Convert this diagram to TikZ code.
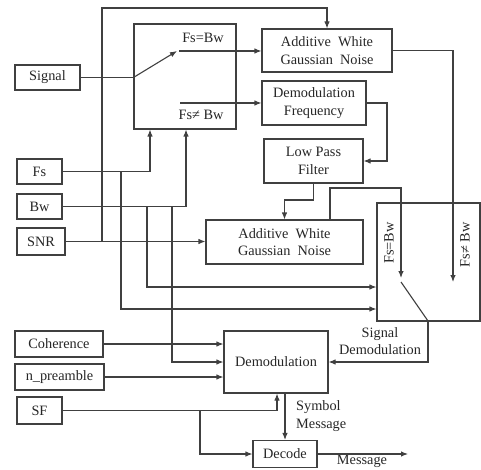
\documentclass[tikz,border=0pt]{standalone}
\usepackage{fontspec}
\setmainfont{Liberation Serif}
\newfontfamily\tms{Liberation Serif}
\usetikzlibrary{arrows.meta}
\begin{document}
\begin{tikzpicture}[x=1pt,y=-1pt,
  every node/.style={font=\tms\fontsize{14.3}{17.5}\selectfont, text=black!85},
  box/.style={draw=black!75, line width=1.1pt, inner sep=0pt, align=center, fill=white},
  ln/.style={draw=black!75, line width=1.1pt},
  arr/.style={ln, -{Latex[length=7pt,width=5.5pt]}},
  lbl/.style={inner sep=0pt}]
\useasboundingbox (0,0) rectangle (481,470);
% boxes
\node[box, minimum width=102pt, minimum height=105pt] (sw) at (185,76.5) {};
\node[box, minimum width=65pt, minimum height=25pt] (sig) at (47.5,77.5) {Signal};
\node[box, minimum width=45pt, minimum height=25pt] (fs) at (39.5,171.5) {Fs};
\node[box, minimum width=45pt, minimum height=25pt] (bw) at (39.5,206.5) {Bw};
\node[box, minimum width=48pt, minimum height=27pt] (snr) at (41,241.5) {SNR};
\node[box, minimum width=88pt, minimum height=26pt] (coh) at (59,344) {Coherence};
\node[box, minimum width=89pt, minimum height=26pt] (npre) at (59.5,377) {n\_preamble};
\node[box, minimum width=45pt, minimum height=27pt] (sf) at (39.5,410.5) {SF};
\node[box, minimum width=130pt, minimum height=43pt] (awgn1) at (327,50.5) {Additive~ White\\Gaussian~ Noise};
\node[box, minimum width=104pt, minimum height=44pt] (dfreq) at (314,103) {Demodulation\\Frequency};
\node[box, minimum width=99pt, minimum height=44pt] (lpf) at (313.5,161) {Low Pass\\Filter};
\node[box, minimum width=157pt, minimum height=44pt] (awgn2) at (284.5,242) {Additive~ White\\Gaussian~ Noise};
\node[box, minimum width=103pt, minimum height=118pt] (sdem) at (428.5,262) {};
\node[box, minimum width=104pt, minimum height=62pt] (dem) at (276,362) {Demodulation};
\node[box, minimum width=64pt, minimum height=27pt] (dec) at (285,454) {Decode};
% labels
\node[lbl] (t1) at (203,38) {Fs=Bw};
\node[lbl] (t2) at (201,115) {Fs≠ Bw};
\node[lbl, rotate=90] (t3) at (389,243) {Fs=Bw};
\node[lbl, rotate=90] (t4) at (465,245) {Fs≠ Bw};
\node[lbl, align=center] (t5) at (380,341) {Signal\\Demodulation};
\node[lbl, align=left, anchor=west] (t6) at (296,416) {Symbol\\Message};
\node[lbl] (t7) at (362,461) {Message};
% helper coordinates
\coordinate (xa) at (102,0);
\coordinate (xb) at (121,0);
\coordinate (xc) at (147,0);
\coordinate (xd) at (150,0);
\coordinate (xe) at (172,0);
\coordinate (xf) at (186,0);
\coordinate (xg) at (200,0);
\coordinate (xh) at (277,0);
\coordinate (ytop) at (0,8);
\coordinate (y287) at (0,287);
\coordinate (y309) at (0,309);
\coordinate (y362) at (0,362);
\coordinate (pole) at (177,51);
\coordinate (pa) at (179,51);
\coordinate (pb) at (180,103);
\coordinate (df) at (387,103);
\coordinate (lp) at (0,200);
\coordinate (aw) at (330,188);
\coordinate (s1) at (401,278);
\coordinate (s0) at (401,282);
\coordinate (s2) at (428,321);
\coordinate (ne) at (453,282);
\coordinate (mo) at (408,454);
% switch 1
\draw[ln] (sig.east) -- (sig.east -| sw.west);
\draw[arr] (sig.east -| sw.west) -- (pole);
\draw[arr] (pa) -- (pa -| awgn1.west);
\draw[arr] (pb) -- (pb -| dfreq.west);
% Fs, Bw into switch
\draw[arr] (fs.east) -- (xd |- fs.east) -- (xd |- sw.south);
\draw[arr] (bw.east) -- (xf |- bw.east) -- (xf |- sw.south);
% SNR
\draw[arr] (snr.east) -- (snr.east -| awgn2.west);
\draw[arr] (xa |- snr.east) -- (xa |- ytop) -- (awgn1.north |- ytop) -- (awgn1.north);
% branches
\draw[arr] (xb |- fs.east) -- (xb |- y309) -- (sdem.west |- y309);
\draw[arr] (xc |- bw.east) -- (xc |- y287) -- (sdem.west |- y287);
\draw[arr] (xe |- bw.east) -- (xe |- y362) -- (dem.west |- y362);
\draw[arr] (coh.east) -- (coh.east -| dem.west);
\draw[arr] (npre.east) -- (npre.east -| dem.west);
\draw[arr] (sf.east) -- (xh |- sf.east) -- (xh |- dem.south);
\draw[arr] (xg |- sf.east) -- (xg |- dec.west) -- (dec.west);
\draw[arr] (dec.north |- dem.south) -- (dec.north);
\draw[arr] (dec.east) -- (mo);
% right chain
\draw[arr] (dfreq.east) -- (df) -- (df |- lpf.east) -- (lpf.east);
\draw[arr] (lpf.south) -- (lpf.south |- lp) -- (awgn2.north |- lp) -- (awgn2.north);
\draw[arr] (aw |- awgn2.north) -- (aw) -- (s1 |- aw) -- (s1);
\draw[arr] (awgn1.east) -- (ne |- awgn1.east) -- (ne);
% switch 2
\draw[ln] (s0) -- (s2);
\draw[arr] (s2) -- (s2 |- y362) -- (y362 -| dem.east);
\end{tikzpicture}
\end{document}
